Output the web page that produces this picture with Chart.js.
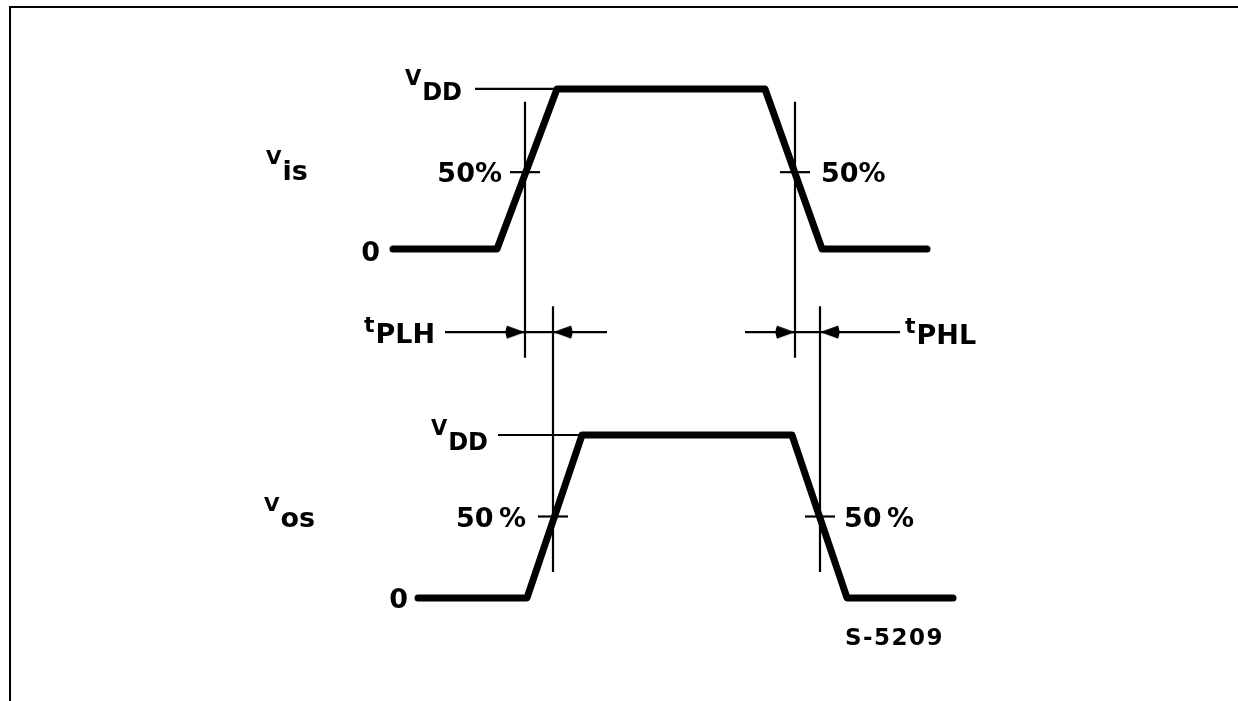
<!DOCTYPE html>
<html>
<head>
<meta charset="utf-8">
<script src="https://cdn.jsdelivr.net/npm/chart.js@4.4.0/dist/chart.umd.min.js"></script>
<style>
  body { margin: 0; background: #fff; overflow: hidden; }
  #quadro { position: relative; width: 1238px; height: 701px; }
  #moldura { position: absolute; left: 9px; top: 6px; right: 0; bottom: 0;
             border-top: 2px solid #000; border-left: 2px solid #000; pointer-events: none; }
</style>
</head>
<body>
<div id="quadro">
  <canvas id="Tempos_Propagacao" width="1238" height="701"></canvas>
  <div id="moldura"></div>
</div>
<script>
// Dados do diagrama - tempo em unidades arbitrárias, nível 0 = 0 V e 1 = VDD
var tempoVis = [39.3, 49.7, 55.7, 76.5, 82.2, 92.7];
var nivelVis = [0, 0, 1, 1, 0, 0];
var tempoVos = [41.8, 52.7, 58.2, 79.2, 84.7, 95.3];
var nivelVos = [0, 0, 1, 1, 0, 0];

// Linhas de referência do VDD (início, fim)
var refVddVis = [47.5, 55.7];
var refVddVos = [49.8, 58.2];

// Instantes em que cada sinal passa por 50%
var cruzaVis = [52.5, 79.5];
var cruzaVos = [55.3, 82.0];
var marcaVis = 0.48;   // altura da marca de 50% em Vis
var marcaVos = 0.5;    // altura da marca de 50% em Vos

// Extensão das linhas verticais (em níveis do eixo de cada sinal)
var verticalVis = [0.92, -0.68];
var verticalVos = [1.79, 0.16];

// Setas tPLH / tPHL
var nivelSetas = -0.52;
var linhaTplh = [44.5, 60.7];
var linhaTphl = [74.5, 90.0];

// Textos
var rotuloVis = ['V', 'is'];
var rotuloVos = ['V', 'os'];
var rotuloVdd = ['V', 'DD'];
var rotuloTplh = ['t', 'PLH'];
var rotuloTphl = ['t', 'PHL'];
var codigoFigura = 'S-5209';

function pontos(xs, ys) {
  return xs.map(function (x, i) { return { x: x, y: ys[i] }; });
}

// Segmento fino (linhas auxiliares)
function segmento(x0, y0, x1, y1, eixo) {
  return {
    data: [{ x: x0, y: y0 }, { x: x1, y: y1 }],
    yAxisID: eixo,
    showLine: true,
    borderColor: '#000',
    borderWidth: 2.2,
    pointRadius: 0
  };
}

// Forma de onda (traço grosso)
function onda(xs, ys, eixo) {
  return {
    data: pontos(xs, ys),
    yAxisID: eixo,
    showLine: true,
    borderColor: '#000',
    borderWidth: 7,
    borderCapStyle: 'round',
    borderJoinStyle: 'round',
    pointRadius: 0
  };
}

// Ponta de seta desenhada num canvas, com a ponta no centro
function criaSeta() {
  var c = document.createElement('canvas');
  c.width = 44; c.height = 16;
  var g = c.getContext('2d');
  g.fillStyle = '#000';
  g.beginPath();
  g.moveTo(22, 8);
  g.lineTo(4, 1.5);
  g.quadraticCurveTo(1, 8, 4, 14.5);
  g.closePath();
  g.fill();
  return c;
}

var datasets = [
  onda(tempoVis, nivelVis, 'yIs'),
  onda(tempoVos, nivelVos, 'yOs'),
  segmento(refVddVis[0], 1, refVddVis[1], 1, 'yIs'),
  segmento(refVddVos[0], 1, refVddVos[1], 1, 'yOs')
];

cruzaVis.forEach(function (c) {
  datasets.push(segmento(c, verticalVis[0], c, verticalVis[1], 'yIs'));
  datasets.push(segmento(c - 1.5, marcaVis, c + 1.5, marcaVis, 'yIs'));
});
cruzaVos.forEach(function (c) {
  datasets.push(segmento(c, verticalVos[0], c, verticalVos[1], 'yOs'));
  datasets.push(segmento(c - 1.5, marcaVos, c + 1.5, marcaVos, 'yOs'));
});

datasets.push(segmento(linhaTplh[0], nivelSetas, linhaTplh[1], nivelSetas, 'yIs'));
datasets.push(segmento(linhaTphl[0], nivelSetas, linhaTphl[1], nivelSetas, 'yIs'));

// Setas: entram pela esquerda em Vis e pela direita em Vos
datasets.push({
  data: [
    { x: cruzaVis[0], y: nivelSetas }, { x: cruzaVos[0], y: nivelSetas },
    { x: cruzaVis[1], y: nivelSetas }, { x: cruzaVos[1], y: nivelSetas }
  ],
  yAxisID: 'yIs',
  showLine: false,
  pointStyle: criaSeta(),
  pointRadius: 5,
  pointRotation: [0, 180, 0, 180]
});

// Texto com índice (ex.: V com "DD")
function textoIndice(ctx, x, base, partes, tamP, tamI, subida, alinhar) {
  ctx.font = 'bold ' + tamP + 'px "DejaVu Sans"';
  var wP = ctx.measureText(partes[0]).width;
  ctx.font = 'bold ' + tamI + 'px "DejaVu Sans"';
  var wI = ctx.measureText(partes[1]).width;
  var x0 = alinhar === 'right' ? x - wP - wI - 1 : x;
  ctx.textAlign = 'left';
  ctx.font = 'bold ' + tamP + 'px "DejaVu Sans"';
  ctx.fillText(partes[0], x0, base - subida);
  ctx.font = 'bold ' + tamI + 'px "DejaVu Sans"';
  ctx.fillText(partes[1], x0 + wP + 1, base);
}

function texto(ctx, t, x, base, tam, alinhar) {
  ctx.font = 'bold ' + tam + 'px "DejaVu Sans"';
  ctx.textAlign = alinhar;
  ctx.fillText(t, x, base);
}

var rotulos = {
  id: 'rotulos',
  afterDatasetsDraw: function (chart) {
    var ctx = chart.ctx;
    var sx = chart.scales.x, sIs = chart.scales.yIs, sOs = chart.scales.yOs;
    ctx.save();
    ctx.fillStyle = '#000';
    ctx.textBaseline = 'alphabetic';

    // Nomes dos sinais
    textoIndice(ctx, 266, sIs.getPixelForValue(0.5) + 11, rotuloVis, 20, 27, 16, 'left');
    textoIndice(ctx, 264, sOs.getPixelForValue(0.5) + 10, rotuloVos, 20, 27, 16, 'left');

    // VDD
    textoIndice(ctx, sx.getPixelForValue(refVddVis[0]) - 13, sIs.getPixelForValue(1) + 11, rotuloVdd, 21, 24, 15, 'right');
    textoIndice(ctx, sx.getPixelForValue(refVddVos[0]) - 10, sOs.getPixelForValue(1) + 15, rotuloVdd, 21, 24, 15, 'right');

    // Zeros
    texto(ctx, '0', sx.getPixelForValue(tempoVis[0]) - 13, sIs.getPixelForValue(0) + 12, 27, 'right');
    texto(ctx, '0', sx.getPixelForValue(tempoVos[0]) - 10, sOs.getPixelForValue(0) + 10, 27, 'right');

    // 50%
    texto(ctx, '50%', sx.getPixelForValue(cruzaVis[0] - 1.5) - 8, sIs.getPixelForValue(marcaVis) + 10, 27, 'right');
    texto(ctx, '50%', sx.getPixelForValue(cruzaVis[1] + 1.5) + 11, sIs.getPixelForValue(marcaVis) + 10, 27, 'left');
    texto(ctx, '50\u2009%', sx.getPixelForValue(cruzaVos[0] - 1.5) - 12, sOs.getPixelForValue(marcaVos) + 10, 27, 'right');
    texto(ctx, '50\u2009%', sx.getPixelForValue(cruzaVos[1] + 1.5) + 9, sOs.getPixelForValue(marcaVos) + 10, 27, 'left');

    // tPLH / tPHL
    textoIndice(ctx, sx.getPixelForValue(linhaTplh[0]) - 10, sIs.getPixelForValue(nivelSetas) + 11, rotuloTplh, 22, 27, 11, 'right');
    textoIndice(ctx, sx.getPixelForValue(linhaTphl[1]) + 5, sIs.getPixelForValue(nivelSetas) + 12, rotuloTphl, 22, 27, 11, 'left');

    // Código da figura
    ctx.letterSpacing = '1.5px';
    texto(ctx, codigoFigura, sx.getPixelForValue(cruzaVos[1]) + 25, sOs.getPixelForValue(0) + 47, 23, 'left');
    ctx.restore();
  }
};

var ctx = document.getElementById('Tempos_Propagacao').getContext('2d');
var Tempos_Propagacao = new Chart(ctx, {
  type: 'scatter',
  data: { datasets: datasets },
  options: {
    responsive: false,
    animation: false,
    layout: { padding: 0, autoPadding: false },
    plugins: { legend: { display: false }, tooltip: { enabled: false } },
    scales: {
      x: { type: 'linear', display: false, min: 0, max: 123.8 },
      yIs: { type: 'linear', display: false, min: -2.825, max: 1.556 },   // Vis: 0 em y=249, VDD em y=89
      yOs: { type: 'linear', display: false, min: -0.632, max: 3.669 }    // Vos: 0 em y=598, VDD em y=435
    }
  },
  plugins: [rotulos]
});
</script>
</body>
</html>
